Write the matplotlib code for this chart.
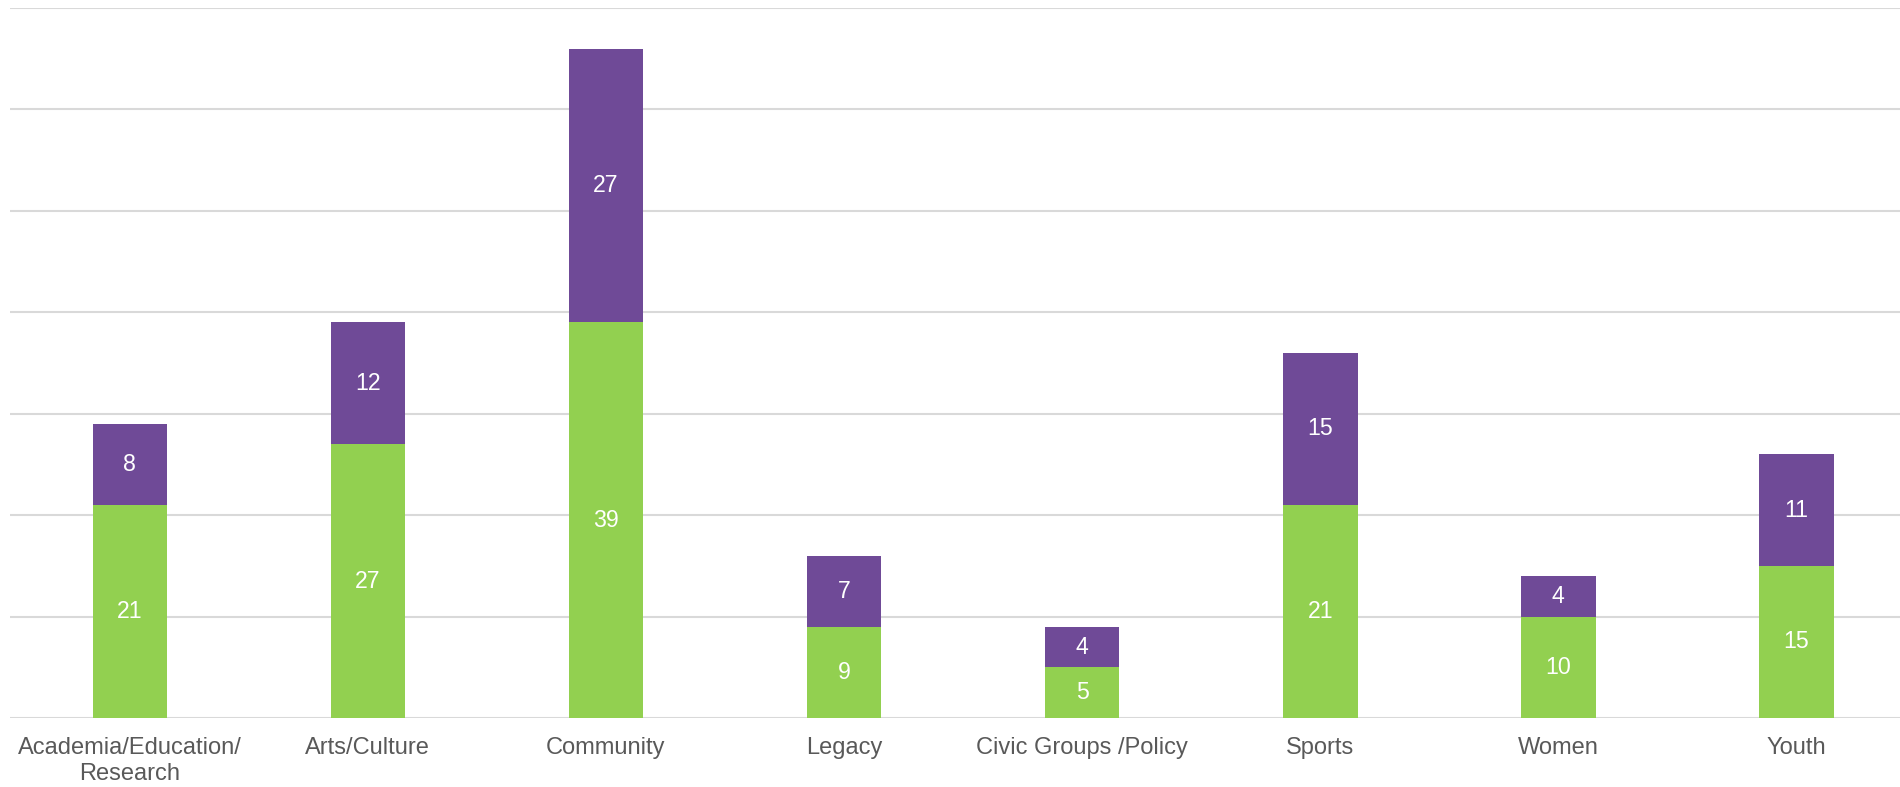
import matplotlib.pyplot as plt
import numpy as np

categories = ["Academia/Education/\nResearch", "Arts/Culture", "Community", "Legacy",
              "Civic Groups /Policy", "Sports", "Women", "Youth"]
green_vals = [21, 27, 39, 9, 5, 21, 10, 15]
purple_vals = [8, 12, 27, 7, 4, 15, 4, 11]

plt.rcParams['font.family'] = ['Liberation Sans', 'DejaVu Sans']

fig = plt.figure(figsize=(19, 7.87), dpi=100)
ax = fig.add_axes([10 / 1900, 69 / 787, 1 - 10 / 1900, (718 - 8) / 787])

x = np.arange(len(categories))
width = 0.313
green_color = "#92D050"
purple_color = "#6F4A97"

ax.bar(x, green_vals, width, color=green_color, zorder=3)
ax.bar(x, purple_vals, width, bottom=green_vals, color=purple_color, zorder=3)

# segment labels
for xi, g, p in zip(x, green_vals, purple_vals):
    ax.text(xi, g / 2, str(g), ha='center', va='center', color='white', fontsize=16.7, zorder=4)
    ax.text(xi, g + p / 2, str(p), ha='center', va='center', color='white', fontsize=16.7, zorder=4)

ax.set_ylim(0, 70)
ax.set_xlim(-0.503, 7.435)
ax.set_yticks(np.arange(0, 71, 10))
ax.set_yticklabels([])
ax.grid(axis='y', color='#d9d9d9', linewidth=1.5, zorder=0)
ax.tick_params(axis='y', length=0)
ax.tick_params(axis='x', length=0, pad=14, labelsize=17, labelcolor='#595959')
ax.set_xticks(x)
ax.set_xticklabels(categories, linespacing=1.2)
for s in ax.spines.values():
    s.set_visible(False)

plt.savefig("out.png", dpi=100)
